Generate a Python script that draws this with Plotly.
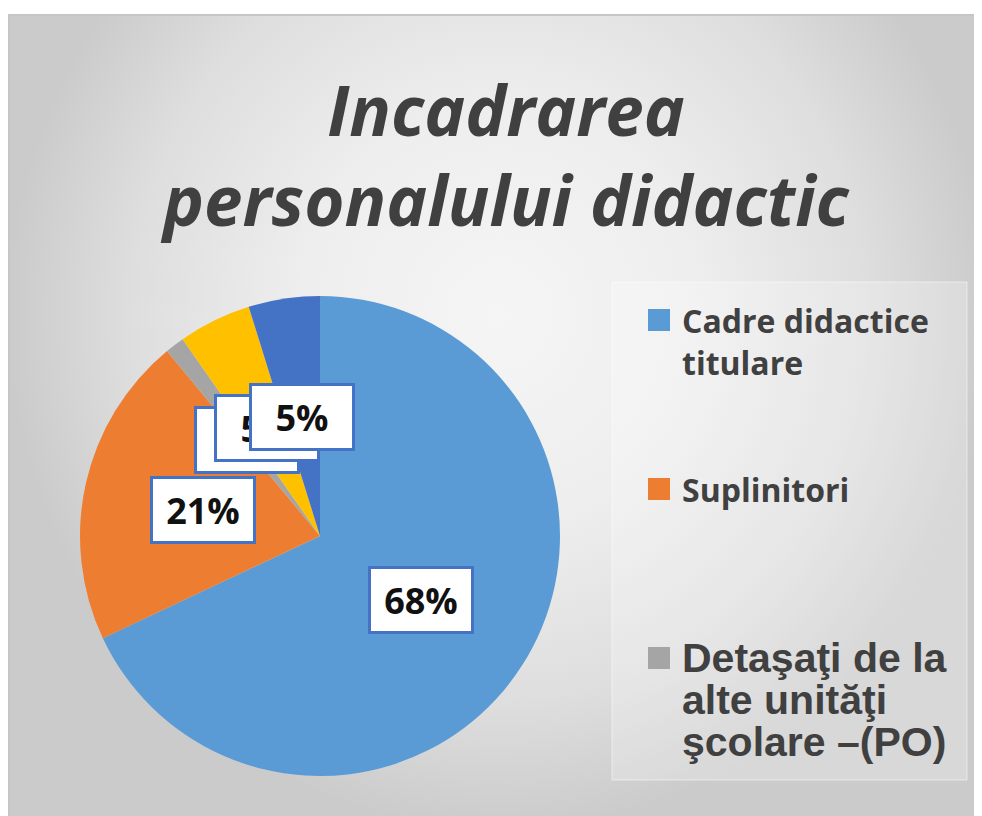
import math
import plotly.graph_objects as go

# ---------------- data ----------------
slice_labels = [
    "Cadre didactice titulare",
    "Suplinitori",
    "Detaşaţi de la alte unităţi şcolare –(PO)",
    "Categoria 4",
    "Categoria 5",
]
slice_values = [68.0, 21.0, 1.3, 4.9, 4.8]
slice_colors = ["#5B9BD5", "#ED7D31", "#A5A5A5", "#FFC000", "#4472C4"]

legend_lines = [
    ["Cadre didactice", "titulare"],
    ["Suplinitori"],
    ["Detaşaţi de la", "alte unităţi", "şcolare –(PO)"],
]
legend_fonts = [
    dict(family="Open Sans", size=32),
    dict(family="Open Sans", size=32),
    dict(family="Liberation Sans", size=41),
]
title_text = "Incadrarea<br>personalului didactic"

# ---------------- layout geometry (screen pixels) ----------------
W, H = 982, 816
OFF = 8                      # page body margin
pie_px_x = [80, 560]
pie_px_y = [296, 776]


def px_x(p):
    return (p - OFF) / W


def px_y(p):
    return 1 - (p - OFF) / H


fig = go.Figure()

# background panel with radial gradient (extends above the view so the light centre sits high)
fig.add_trace(go.Scatter(
    x=[8, 990, 990, 8, 8], y=[-200, -200, 830, 830, -200],
    mode="lines", fill="toself",
    line=dict(color="#c8c8c8", width=0),
    fillgradient=dict(type="radial",
                      colorscale=[[0, "#f5f5f5"], [0.4, "#eeeeee"],
                                  [0.75, "#dedede"], [1, "#cbcbcb"]]),
    hoverinfo="skip", showlegend=False,
))

# pie
fig.add_trace(go.Pie(
    labels=slice_labels, values=slice_values,
    marker=dict(colors=slice_colors, line=dict(width=0)),
    sort=False, direction="clockwise", rotation=0,
    textinfo="none", showlegend=False,
    domain=dict(x=[px_x(pie_px_x[0]), px_x(pie_px_x[1])],
                y=[px_y(pie_px_y[1]), px_y(pie_px_y[0])]),
    hoverinfo="label+percent",
))

# data labels in boxes, at half radius along each slice's mid angle
total = sum(slice_values)
cx = (pie_px_x[0] + pie_px_x[1]) / 2
cy = (pie_px_y[0] + pie_px_y[1]) / 2
R = min(pie_px_x[1] - pie_px_x[0], pie_px_y[1] - pie_px_y[0]) / 2
cum = 0.0
for v in slice_values:
    mid = (cum + v / 2) / total * 2 * math.pi
    cum += v
    fig.add_annotation(
        x=cx + 0.5 * R * math.sin(mid), y=cy - 0.5 * R * math.cos(mid),
        xref="x", yref="y", showarrow=False,
        text=f"{round(v / total * 100)}%",
        font=dict(family="Open Sans", size=36, color="#111111", weight="bold"),
        bgcolor="white", bordercolor="#4472C4", borderwidth=3, borderpad=6,
        width=88, height=50, xanchor="center", yanchor="middle",
    )

# white strip above the panel and thin panel edges
fig.add_shape(type="rect", xref="x", yref="y", x0=0, x1=1000, y0=0, y1=14,
              line=dict(width=0), fillcolor="white", layer="above")
fig.add_shape(type="line", xref="x", yref="y", x0=8, x1=1000, y0=15, y1=15,
              line=dict(width=2, color="#c6c6c6"), layer="above")
fig.add_shape(type="line", xref="x", yref="y", x0=9, x1=9, y0=14, y1=830,
              line=dict(width=2, color="#c6c6c6"), layer="above")

# legend area (manual, reference shows only the first three entries)
fig.add_shape(type="rect", xref="x", yref="y", x0=612, x1=967, y0=282, y1=780,
              line=dict(width=1, color="rgba(255,255,255,0.5)"),
              fillcolor="rgba(255,255,255,0.25)", layer="above")
leg_x, leg_y0, leg_step, line_step, sq = 659, 320, 169, 42, 22
for i, lines in enumerate(legend_lines):
    yy = leg_y0 + i * leg_step
    fig.add_shape(type="rect", xref="x", yref="y",
                  x0=leg_x - sq / 2, x1=leg_x + sq / 2, y0=yy - sq / 2, y1=yy + sq / 2,
                  line=dict(width=0), fillcolor=slice_colors[i], layer="above")
    for k, ln in enumerate(lines):
        fig.add_annotation(
            x=leg_x + sq / 2 + 10, y=yy + k * line_step, xref="x", yref="y",
            text=ln, showarrow=False, xanchor="left", yanchor="middle",
            font=dict(color="#404040", weight="bold", **legend_fonts[i]),
        )

fig.update_layout(
    width=W, height=H,
    margin=dict(l=0, r=0, t=0, b=0),
    paper_bgcolor="white", plot_bgcolor="rgba(0,0,0,0)",
    xaxis=dict(range=[OFF, W + OFF], visible=False, fixedrange=True),
    yaxis=dict(range=[H + OFF, OFF], visible=False, fixedrange=True),
    title=dict(text=title_text, x=(506 - OFF) / W, xanchor="center",
               y=px_y(136), yanchor="top", yref="container",
               font=dict(family="Open Sans", size=69, color="#404040",
                         weight="bold", style="italic")),
    showlegend=False,
)

fig.write_html("out.html")
